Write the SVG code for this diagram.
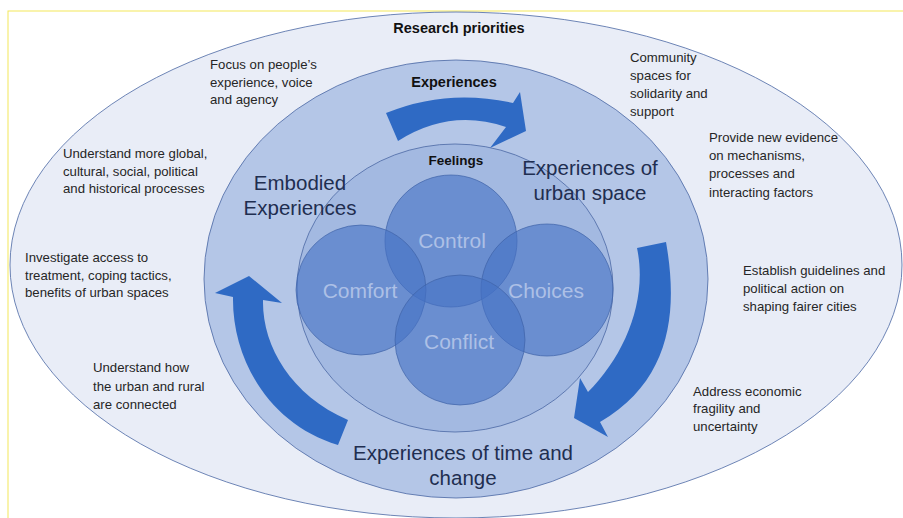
<svg xmlns="http://www.w3.org/2000/svg" width="903" height="518" viewBox="0 0 903 518">
<style>
.frame{fill:#ffffff;stroke:#F4E85A;stroke-width:1}
.ell{stroke:#4A67A3;stroke-width:0.8}
.circ{fill:#4472C4;fill-opacity:0.6;stroke:#3F63A8;stroke-width:0.7}
.arrow{fill:#2F6AC4}
.small{font-family:"Liberation Sans",Arial,sans-serif;font-size:13.2px;fill:#262626}
.bold{font-family:"Liberation Sans",Arial,sans-serif;font-size:14.5px;font-weight:bold;fill:#111111;text-anchor:middle}
.big{font-family:"Liberation Sans",Arial,sans-serif;font-size:20.5px;fill:#1F2E50;text-anchor:middle}
.clab{font-family:"Liberation Sans",Arial,sans-serif;font-size:21px;fill:#ADC0E6;text-anchor:middle}
</style>
<rect class="frame" x="8" y="11" width="905" height="520"/>
<g id="research-priorities">
<ellipse class="ell" cx="456" cy="265" rx="446" ry="253" fill="#E9EDF7"/>
<text class="bold" x="459" y="33">Research priorities</text>
</g>
<g id="experiences">
<ellipse class="ell" cx="456" cy="279" rx="252" ry="219" fill="#B4C6E7"/>
<text class="bold" x="454" y="87">Experiences</text>
</g>
<g id="feelings">
<ellipse class="ell" cx="455" cy="288" rx="158" ry="144" fill="#A3B9E1"/>
<text class="bold" x="456" y="165" style="font-size:13.5px">Feelings</text>
</g>
<g id="control"><circle class="circ" cx="451" cy="241" r="66"/><text class="clab" x="452" y="248">Control</text></g>
<g id="comfort"><circle class="circ" cx="361" cy="290" r="65"/><text class="clab" x="360" y="298">Comfort</text></g>
<g id="choices"><circle class="circ" cx="547" cy="290" r="66"/><text class="clab" x="546" y="298">Choices</text></g>
<g id="conflict"><circle class="circ" cx="460" cy="340" r="65"/><text class="clab" x="459" y="349">Conflict</text></g>
<g id="connectors">
<path class="arrow" d="M386,113 Q447,88 513,103 L520,92 L526,131 L490,148 L506,127 Q450,108 398,141 Z"/>
<path class="arrow" d="M637,248 L666,242 C678,310 672,380 600,422 L608,437 L574,418 L580,378 L588,392 C625,355 648,300 637,248 Z"/>
<path class="arrow" d="M338,445 C270,425 232,360 233,297 L215,293 L249,276 L282,303 L263,300 C262,345 290,395 348,420 Z"/>
</g>
<g id="labels-big">
<text class="big" x="300" y="190">Embodied</text>
<text class="big" x="300" y="215">Experiences</text>
<text class="big" x="590" y="175">Experiences of</text>
<text class="big" x="590" y="200">urban space</text>
<text class="big" x="463" y="460">Experiences of time and</text>
<text class="big" x="463" y="485">change</text>
</g>
<g id="priorities-text">
<text class="small" x="210" y="69">Focus on people’s</text>
<text class="small" x="210" y="87">experience, voice</text>
<text class="small" x="210" y="104">and agency</text>
<text class="small" x="63" y="158">Understand more global,</text>
<text class="small" x="63" y="176">cultural, social, political</text>
<text class="small" x="63" y="193">and historical processes</text>
<text class="small" x="25" y="262">Investigate access to</text>
<text class="small" x="25" y="280">treatment, coping tactics,</text>
<text class="small" x="25" y="297">benefits of urban spaces</text>
<text class="small" x="93" y="372">Understand how</text>
<text class="small" x="93" y="391">the urban and rural</text>
<text class="small" x="93" y="409">are connected</text>
<text class="small" x="630" y="62">Community</text>
<text class="small" x="630" y="80">spaces for</text>
<text class="small" x="630" y="98">solidarity and</text>
<text class="small" x="630" y="116">support</text>
<text class="small" x="709" y="142">Provide new evidence</text>
<text class="small" x="709" y="160">on mechanisms,</text>
<text class="small" x="709" y="178">processes and</text>
<text class="small" x="709" y="197">interacting factors</text>
<text class="small" x="743" y="275">Establish guidelines and</text>
<text class="small" x="743" y="293">political action on</text>
<text class="small" x="743" y="311">shaping fairer cities</text>
<text class="small" x="693" y="396">Address economic</text>
<text class="small" x="693" y="413">fragility and</text>
<text class="small" x="693" y="431">uncertainty</text>
</g>
</svg>
